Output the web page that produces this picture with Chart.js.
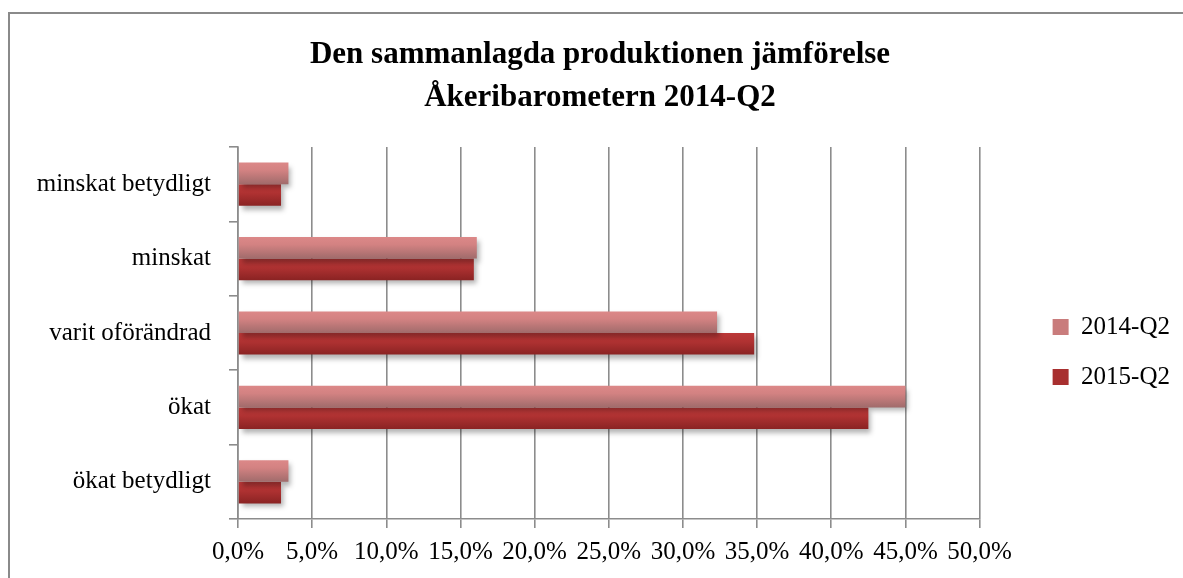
<!DOCTYPE html>
<html>
<head>
<meta charset="utf-8">
<title>Åkeribarometern 2014-Q2</title>
<script src="https://cdn.jsdelivr.net/npm/chart.js@4.4.1/dist/chart.umd.min.js"></script>
<style>
	body {
		margin: 0;
		background: #fff;
		overflow: hidden;
	}
	#ram {
		position: absolute;
		left: 8px;
		top: 12px;
		width: 1200px;
		height: 600px;
		border-left: 2px solid #8a8a8a;
		border-top: 2px solid #8a8a8a;
	}
	#produktion {
		position: absolute;
		left: 0;
		top: 0;
	}
</style>
</head>
<body>
<div id="ram">
	<canvas id="produktion" width="1180" height="570"></canvas>
</div>
<script>
//data
let kategorier = ["minskat betydligt", "minskat", "varit oförändrad", "ökat", "ökat betydligt"];
let serier = ["2014-Q2", "2015-Q2"];
let varden2014 = [3.4, 16.1, 32.3, 45.0, 3.4];
let varden2015 = [2.9, 15.9, 34.8, 42.5, 2.9];
let xTicks = [0, 5, 10, 15, 20, 25, 30, 35, 40, 45, 50];

let typsnitt = "'Liberation Serif', 'Times New Roman', serif";
let linjeFarg = "#8c8c8c";
let legendFarger = ["#c97c7c", "#a82f2f"];

//gradient per stapel (uppifrån och ned)
function stapelFarg(stops, reserv) {
	return function (ctx) {
		let el = ctx.element;
		if (!el || !ctx.chart.chartArea || !isFinite(el.y) || !el.height) return reserv;
		let top = el.y - el.height / 2;
		let g = ctx.chart.ctx.createLinearGradient(0, top, 0, top + el.height);
		stops.forEach(function (s) {
			g.addColorStop(s[0], s[1]);
		});
		return g;
	};
}

//skugga bakom staplarna
let skugga = {
	id: "skugga",
	beforeDatasetsDraw(chart) {
		let c = chart.ctx;
		c.save();
		c.shadowColor = "rgba(0,0,0,0.3)";
		c.shadowBlur = 5;
		c.shadowOffsetX = 3;
		c.shadowOffsetY = 4;
	},
	afterDatasetsDraw(chart) {
		chart.ctx.restore();
	},
};

Chart.defaults.font.family = typsnitt;
Chart.defaults.color = "#000";

let produktion = document.getElementById("produktion").getContext("2d");
let produktionChart = new Chart(produktion, {
	type: "bar",
	data: {
		labels: kategorier,
		datasets: [
			{
				label: serier[0],
				data: varden2014,
				backgroundColor: stapelFarg(
					[
						[0, "#dc8888"],
						[0.35, "#d38282"],
						[1, "#a06b6b"],
					],
					legendFarger[0]
				),
				borderWidth: 0,
				categoryPercentage: 0.58,
				barPercentage: 1.0,
			},
			{
				label: serier[1],
				data: varden2015,
				backgroundColor: stapelFarg(
					[
						[0, "#bb3838"],
						[0.4, "#b03232"],
						[1, "#8a2323"],
					],
					legendFarger[1]
				),
				borderWidth: 0,
				categoryPercentage: 0.58,
				barPercentage: 1.0,
			},
		],
	},
	options: {
		indexAxis: "y",
		responsive: false,
		animation: false,
		layout: {
			padding: { left: 10, right: 10, top: 0, bottom: 0 },
		},
		scales: {
			x: {
				type: "linear",
				min: 0,
				max: 50,
				afterBuildTicks(scale) {
					scale.ticks = xTicks.map(function (v) {
						return { value: v };
					});
				},
				ticks: {
					font: { size: 25 },
					padding: 9,
					maxRotation: 0,
					callback: function (v) {
						return v.toFixed(1).replace(".", ",") + "%";
					},
				},
				grid: {
					color: linjeFarg,
					lineWidth: 1.6,
					tickLength: 9,
				},
				border: { color: linjeFarg, width: 1.6 },
				afterFit(scale) {
					scale.height = 65;
				},
			},
			y: {
				type: "category",
				ticks: {
					font: { size: 25 },
					padding: 18,
				},
				grid: {
					offset: true,
					drawOnChartArea: false,
					color: linjeFarg,
					lineWidth: 1.6,
					tickLength: 9,
				},
				border: { color: linjeFarg, width: 1.6 },
				afterFit(scale) {
					scale.width = 218;
				},
			},
			//tom axel som ger luft mellan diagram och förklaring
			mellanrum: {
				type: "linear",
				position: "right",
				grid: { display: false },
				border: { display: false },
				ticks: { display: false },
				afterFit(scale) {
					scale.width = 48;
				},
			},
		},
		plugins: {
			title: {
				display: true,
				text: ["Den sammanlagda produktionen jämförelse", "Åkeribarometern 2014-Q2"],
				font: { size: 31, weight: "bold", lineHeight: 43 / 31 },
				color: "#000",
				padding: { top: 19, bottom: 28 },
			},
			legend: {
				position: "right",
				fullSize: false,
				title: {
					display: true,
					text: " ",
					font: { size: 10, lineHeight: 1.2 },
					padding: { top: 13, bottom: 13 },
				},
				labels: {
					font: { size: 25 },
					boxWidth: 16,
					boxHeight: 16,
					padding: 25,
					generateLabels: function (chart) {
						let items = Chart.defaults.plugins.legend.labels.generateLabels(chart);
						items.forEach(function (item, i) {
							item.fillStyle = legendFarger[i];
						});
						return items;
					},
				},
			},
			tooltip: { enabled: false },
		},
	},
	plugins: [skugga],
});

//andra varvet så att gradienterna får stapelns läge
produktionChart.update();
</script>
</body>
</html>
